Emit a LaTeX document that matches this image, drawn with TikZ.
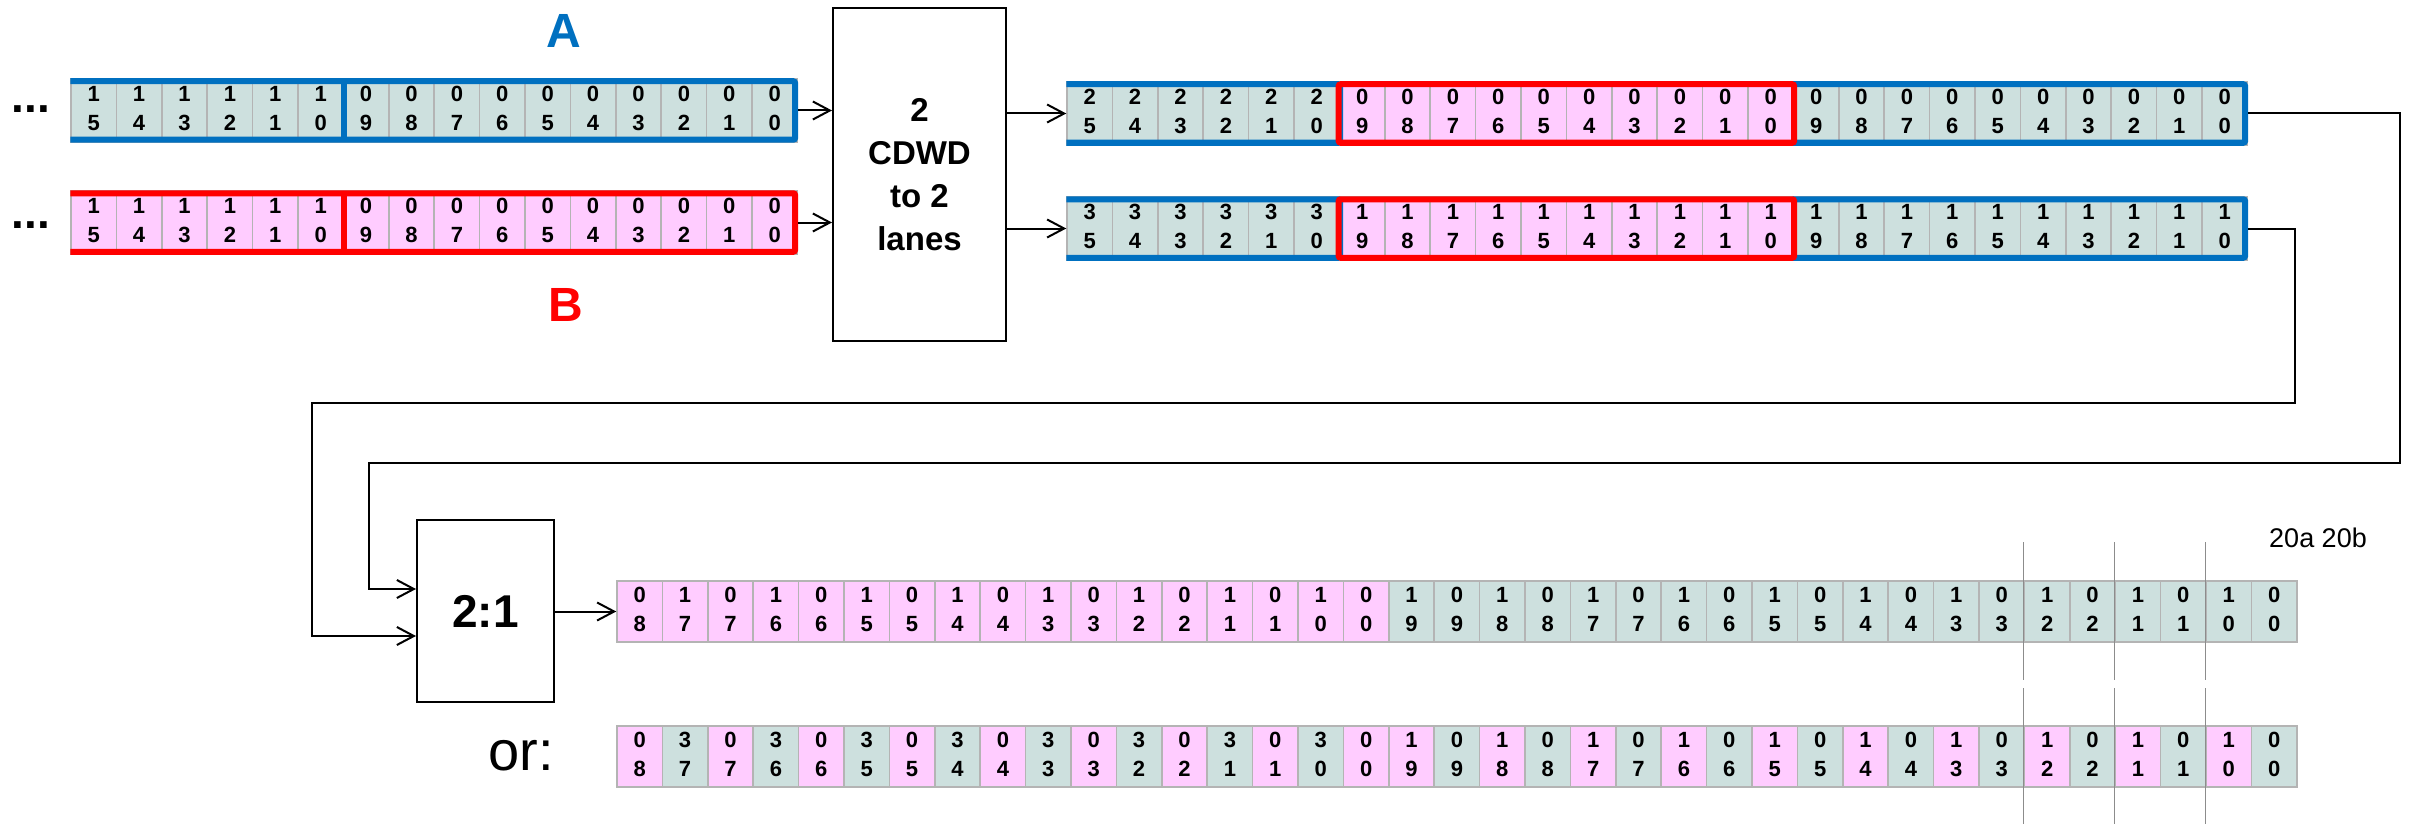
\documentclass[tikz,border=0pt]{standalone}
\usepackage{fontspec}
\setmainfont{Liberation Sans}
\usetikzlibrary{arrows.meta}
\definecolor{cg}{HTML}{CDE0DE}
\definecolor{pk}{HTML}{FFCCFF}
\definecolor{ablue}{HTML}{0070C0}
\definecolor{bred}{HTML}{FF0000}
\definecolor{cellline}{HTML}{B4B4B4}
\definecolor{vgrey}{HTML}{8C8C8C}
\newcommand\cellfont{\fontsize{22}{29}\selectfont\bfseries}
\newcommand\mkrow[5]{%
  \foreach \pp/\qq/\cc [count=\i from 0] in {#5}{%
    \node[cellbox, fill=\cc, minimum height=#4pt] (#1-\i) at ({#2+(\i+0.5)*45.4}, #3)
      {\raisebox{-1.7pt}{\begin{tabular}{@{}c@{}}\pp\\\qq\end{tabular}}};
  }}
\tikzset{
  cellbox/.style={draw=cellline, line width=1.5pt, minimum width=45.4pt, inner sep=0pt, font=\cellfont},
  blockbox/.style={draw=black, line width=2pt, inner sep=0pt, align=center},
  arr/.style={-{Straight Barb[length=17pt,width=18pt,line width=2pt]}, line width=2pt, black},
  bandblue/.style={ablue, line width=6pt, rounded corners=2pt},
  bandred/.style={bred, line width=6pt, rounded corners=2pt},
  vline/.style={vgrey, line width=1.5pt},
}
\begin{document}
\begin{tikzpicture}[x=1pt,y=-1pt]
\useasboundingbox (0,0) rectangle (2419,824);

% labels
\node[text=ablue, font=\fontsize{48}{48}\selectfont\bfseries] (labA) at (564,31) {A};
\node[text=bred, font=\fontsize{48}{48}\selectfont\bfseries] (labB) at (566,305) {B};
\node[font=\fontsize{46}{46}\selectfont\bfseries, anchor=base, inner sep=0pt] (dotsA) at (31,113) {...};
\node[font=\fontsize{46}{46}\selectfont\bfseries, anchor=base, inner sep=0pt] (dotsB) at (31,228) {...};

% input rows
\mkrow{rA}{71}{110.5}{63}{1/5/cg,1/4/cg,1/3/cg,1/2/cg,1/1/cg,1/0/cg,0/9/cg,0/8/cg,0/7/cg,0/6/cg,0/5/cg,0/4/cg,0/3/cg,0/2/cg,0/1/cg,0/0/cg}
\mkrow{rB}{71}{222.5}{63}{1/5/pk,1/4/pk,1/3/pk,1/2/pk,1/1/pk,1/0/pk,0/9/pk,0/8/pk,0/7/pk,0/6/pk,0/5/pk,0/4/pk,0/3/pk,0/2/pk,0/1/pk,0/0/pk}
\draw[bandblue] ([yshift=-3pt]rA-0.north west) -- ([xshift=-3pt,yshift=-3pt]rA-15.north east)
  -- ([xshift=-3pt,yshift=3pt]rA-15.south east) -- ([yshift=3pt]rA-0.south west);
\draw[bandblue] ([yshift=-3pt]rA-5.north east) -- ([yshift=3pt]rA-5.south east);
\draw[bandred] ([yshift=-3pt]rB-0.north west) -- ([xshift=-3pt,yshift=-3pt]rB-15.north east)
  -- ([xshift=-3pt,yshift=3pt]rB-15.south east) -- ([yshift=3pt]rB-0.south west);
\draw[bandred] ([yshift=-3pt]rB-5.north east) -- ([yshift=3pt]rB-5.south east);

% CDWD block
\node[blockbox, minimum width=173pt, minimum height=333pt, font=\fontsize{33}{43}\selectfont\bfseries] (cdwd) at (919.5,174.5) {2\\CDWD\\to 2\\lanes};
\draw[arr] (rA-15.east) -- (rA-15.east -| cdwd.west);
\draw[arr] (rB-15.east) -- (rB-15.east -| cdwd.west);

% lane rows
\mkrow{rC}{1067}{113.5}{63}{2/5/cg,2/4/cg,2/3/cg,2/2/cg,2/1/cg,2/0/cg,0/9/pk,0/8/pk,0/7/pk,0/6/pk,0/5/pk,0/4/pk,0/3/pk,0/2/pk,0/1/pk,0/0/pk,0/9/cg,0/8/cg,0/7/cg,0/6/cg,0/5/cg,0/4/cg,0/3/cg,0/2/cg,0/1/cg,0/0/cg}
\mkrow{rD}{1067}{228.5}{63}{3/5/cg,3/4/cg,3/3/cg,3/2/cg,3/1/cg,3/0/cg,1/9/pk,1/8/pk,1/7/pk,1/6/pk,1/5/pk,1/4/pk,1/3/pk,1/2/pk,1/1/pk,1/0/pk,1/9/cg,1/8/cg,1/7/cg,1/6/cg,1/5/cg,1/4/cg,1/3/cg,1/2/cg,1/1/cg,1/0/cg}
\foreach \r in {rC,rD}{
  \draw[bandblue] ([yshift=-3pt]\r-0.north west) -- ([yshift=-3pt]\r-5.north east)
    -- ([yshift=3pt]\r-5.south east) -- ([yshift=3pt]\r-0.south west);
  \draw[bandblue] ([yshift=-3pt]\r-16.north west) -- ([xshift=-3pt,yshift=-3pt]\r-25.north east)
    -- ([xshift=-3pt,yshift=3pt]\r-25.south east) -- ([yshift=3pt]\r-16.south west);
  \draw[bandred] ([yshift=-3pt]\r-6.north west) rectangle ([yshift=3pt]\r-15.south east);
}
\draw[arr] (cdwd.east |- rC-0.west) -- (rC-0.west);
\draw[arr] (cdwd.east |- rD-0.west) -- (rD-0.west);

% 2:1 mux
\node[blockbox, minimum width=137pt, minimum height=182pt, font=\fontsize{46}{46}\selectfont\bfseries] (mux) at (485.5,611) {2:1};
\draw[arr] (rC-25.east) -- ++(152,0) |- (369,463) |- ([yshift=22pt]mux.west);
\draw[arr] (rD-25.east) -- ++(47,0) |- (312,403) |- ([yshift=-25pt]mux.west);

% output rows
\mkrow{rE}{617}{611.5}{61}{0/8/pk,1/7/pk,0/7/pk,1/6/pk,0/6/pk,1/5/pk,0/5/pk,1/4/pk,0/4/pk,1/3/pk,0/3/pk,1/2/pk,0/2/pk,1/1/pk,0/1/pk,1/0/pk,0/0/pk,1/9/cg,0/9/cg,1/8/cg,0/8/cg,1/7/cg,0/7/cg,1/6/cg,0/6/cg,1/5/cg,0/5/cg,1/4/cg,0/4/cg,1/3/cg,0/3/cg,1/2/cg,0/2/cg,1/1/cg,0/1/cg,1/0/cg,0/0/cg}
\mkrow{rF}{617}{756.5}{61}{0/8/pk,3/7/cg,0/7/pk,3/6/cg,0/6/pk,3/5/cg,0/5/pk,3/4/cg,0/4/pk,3/3/cg,0/3/pk,3/2/cg,0/2/pk,3/1/cg,0/1/pk,3/0/cg,0/0/pk,1/9/pk,0/9/cg,1/8/pk,0/8/cg,1/7/pk,0/7/cg,1/6/pk,0/6/cg,1/5/pk,0/5/cg,1/4/pk,0/4/cg,1/3/pk,0/3/cg,1/2/pk,0/2/cg,1/1/pk,0/1/cg,1/0/pk,0/0/cg}
\draw[arr] (mux.east |- rE-0.west) -- (rE-0.west);

\foreach \k in {31,33,35}{
  \draw[vline] ([yshift=38pt]rE-\k.north west) -- ([yshift=-37pt]rE-\k.south west);
  \draw[vline] ([yshift=37pt]rF-\k.north west) -- ([yshift=-37pt]rF-\k.south west);
}
\node[font=\fontsize{27}{27}\selectfont] (lab20) at (2318,538) {20a 20b};
\node[font=\fontsize{56}{56}\selectfont] (labor) at (521,756) {or:};
\end{tikzpicture}
\end{document}
